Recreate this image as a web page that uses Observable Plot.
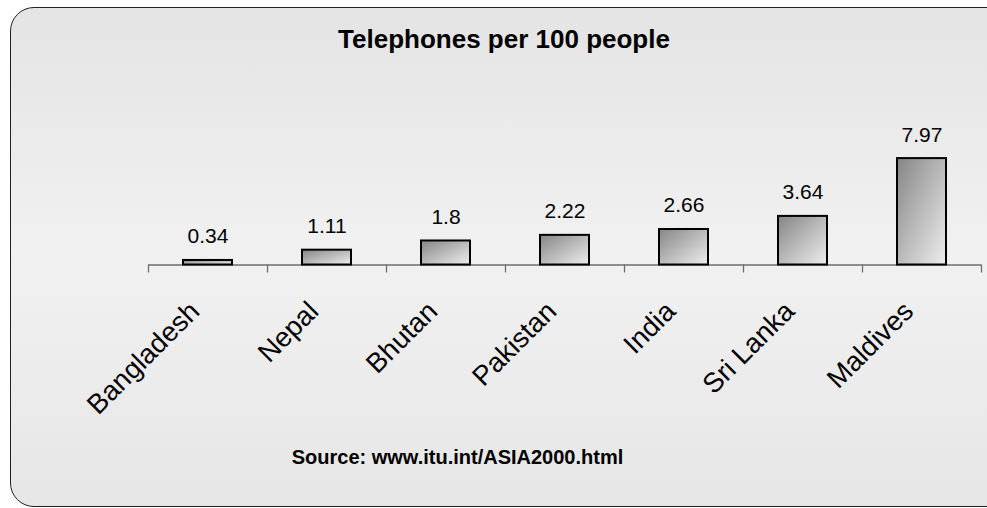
<!DOCTYPE html>
<html>
<head>
<meta charset="utf-8">
<script src="https://cdn.jsdelivr.net/npm/d3@7"></script>
<script src="https://cdn.jsdelivr.net/npm/@observablehq/plot@0.6"></script>
<style>
  html, body { margin: 0; padding: 0; background: #ffffff; overflow: hidden; }
  #wrap { position: relative; width: 987px; height: 508px; overflow: hidden; font-family: "Liberation Sans", Arial, sans-serif; }
  #frame { position: absolute; left: 10px; top: 7px; width: 1000px; height: 498px; border: 1.5px solid #222; border-radius: 24px;
           background: linear-gradient(to bottom, #e4e4e4 0%, #f1f1f1 50%, #e6e6e6 100%); }
  #title { position: absolute; left: 0; top: 26px; width: 1008px; text-align: center; font-weight: bold; font-size: 26px; line-height: 26px; color: #000; }
  #source { position: absolute; left: 0; top: 447px; width: 915px; text-align: center; font-weight: bold; font-size: 20px; line-height: 20px; color: #000; }
  #chart { position: absolute; left: 0; top: 0; }
</style>
</head>
<body>
<div id="wrap">
  <div id="frame"></div>
  <div id="chart"></div>
  <div id="title">Telephones per 100 people</div>
  <div id="source">Source: www.itu.int/ASIA2000.html</div>
</div>
<script>
const countries = ["Bangladesh", "Nepal", "Bhutan", "Pakistan", "India", "Sri Lanka", "Maldives"];
const values = [0.34, 1.11, 1.8, 2.22, 2.66, 3.64, 7.97];
const data = countries.map((c, i) => ({country: c, value: values[i]}));

const axisColor = "#6e6e6e";
const step = (987 - 148 - 6) / countries.length;

const svg = Plot.plot({
  width: 987,
  height: 508,
  marginLeft: 148,
  marginRight: 6,
  marginTop: 157.7,
  marginBottom: 243.5,
  style: {background: "transparent", fontFamily: "'Liberation Sans', Arial, sans-serif", color: "#000"},
  x: {domain: countries, paddingInner: 0.59, paddingOuter: 0.295, axis: null},
  y: {domain: [0, 8], axis: null},
  marks: [
    Plot.axisX({anchor: "bottom", tickSize: 8, tickFormat: () => "", label: null, dx: -step / 2, stroke: axisColor, strokeWidth: 1.3}),
    Plot.axisX([countries[countries.length - 1]], {anchor: "bottom", tickSize: 8, tickFormat: () => "", label: null, dx: step / 2, stroke: axisColor, strokeWidth: 1.3}),
    Plot.ruleY([0], {stroke: axisColor, strokeWidth: 1.6}),
    Plot.barY(data, {x: "country", y: "value", fill: "url(#barGrad)", stroke: "#000", strokeWidth: 2}),
    Plot.text(data, {x: "country", y: "value", text: d => String(d.value), dy: -17, lineAnchor: "bottom", fontSize: 21, fill: "#000"}),
    Plot.text(data, {x: "country", y: () => 0, text: "country", dx: -7, dy: 48, rotate: -45, textAnchor: "end", lineAnchor: "bottom", fontSize: 27.5, fill: "#000"})
  ]
});

const defs = d3.select(svg).insert("defs", ":first-child");
const g = defs.append("linearGradient").attr("id", "barGrad").attr("x1", 0).attr("y1", 0).attr("x2", 1).attr("y2", 1);
g.append("stop").attr("offset", "0%").attr("stop-color", "#858585");
g.append("stop").attr("offset", "100%").attr("stop-color", "#eeeeee");

document.getElementById("chart").appendChild(svg);
</script>
</body>
</html>
